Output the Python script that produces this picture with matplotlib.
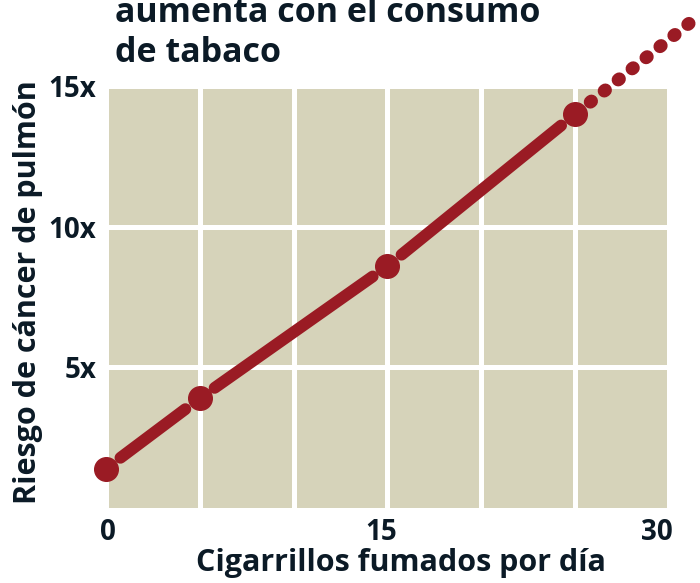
import numpy as np
import matplotlib
matplotlib.use("Agg")
import matplotlib.pyplot as plt
from matplotlib.transforms import ScaledTranslation

# datos
cigarrillos = [0, 5, 15, 25]
riesgo = [1.4, 3.9, 8.6, 14.0]
# prolongacion punteada mas alla del ultimo punto
extra_x = [25, 31.4]
extra_y = [14.0, 17.4]

xticks = [0, 5, 10, 15, 20, 25, 30]
xlabels = ["0", "", "", "15", "", "", "30"]
yticks = [5, 10, 15]
ylabels = ["5x", "10x", "15x"]

rojo = "#9a1b24"
fondo = "#d6d3ba"
texto = "#0b1a26"
plt.rcParams["font.family"] = ["Open Sans", "DejaVu Sans"]

fig = plt.figure(figsize=(7, 5.83), dpi=100)
ax = fig.add_axes([0.1514, 0.1286, 0.8043, 0.7239])
ax.set_facecolor(fondo)
ax.set_xlim(0, 30)
ax.set_ylim(0, 15)

ax.set_xticks(xticks)
ax.set_xticklabels(xlabels)
ax.set_yticks(yticks)
ax.set_yticklabels(ylabels)
ax.tick_params(length=0, labelsize=20, labelcolor=texto)
ax.tick_params(axis="x", pad=7)
ax.tick_params(axis="y", pad=7)
# pequeños desplazamientos de las etiquetas del eje x
despl = {"0": 2, "15": -6, "30": -12}
for t in ax.get_xticklabels():
    t.set_fontweight("bold")
    dx = despl.get(t.get_text(), 0)
    t.set_transform(t.get_transform() + ScaledTranslation(dx / 100, 0, fig.dpi_scale_trans))
for t in ax.get_yticklabels():
    t.set_fontweight("bold")
ax.grid(True, color="white", lw=3.6)
ax.set_axisbelow(True)
for s in ax.spines.values():
    s.set_visible(False)

# tramos entre puntos, separados de los marcadores
for i in range(len(cigarrillos) - 1):
    ax.annotate("", xy=(cigarrillos[i + 1], riesgo[i + 1]),
                xytext=(cigarrillos[i], riesgo[i]),
                arrowprops=dict(arrowstyle="-", color=rojo, lw=8.5,
                                shrinkA=13, shrinkB=13, capstyle="round"))

ax.annotate("", xy=(extra_x[1], extra_y[1]), xytext=(extra_x[0], extra_y[0]),
            annotation_clip=False,
            arrowprops=dict(arrowstyle="-", color=rojo, lw=9.5, ls=(0, (0.1, 1.25)),
                            shrinkA=14, shrinkB=0, capstyle="round"))

ax.plot(cigarrillos, riesgo, "o", color=rojo, ms=17, clip_on=False, zorder=5)

ax.set_xlabel("Cigarrillos fumados por día", fontsize=22, fontweight="bold",
              color=texto)
ax.xaxis.set_label_coords(0.524, -0.095)
ax.set_ylabel("Riesgo de cáncer de pulmón", fontsize=22, fontweight="bold",
              color=texto)
ax.yaxis.set_label_coords(-0.112, 0.512)

fig.text(0.164, 0.962, "aumenta con el consumo", fontsize=24.5, fontweight="bold",
         color=texto, va="baseline")
fig.text(0.164, 0.893, "de tabaco", fontsize=24.5, fontweight="bold",
         color=texto, va="baseline")

fig.savefig("out.png", dpi=100)
